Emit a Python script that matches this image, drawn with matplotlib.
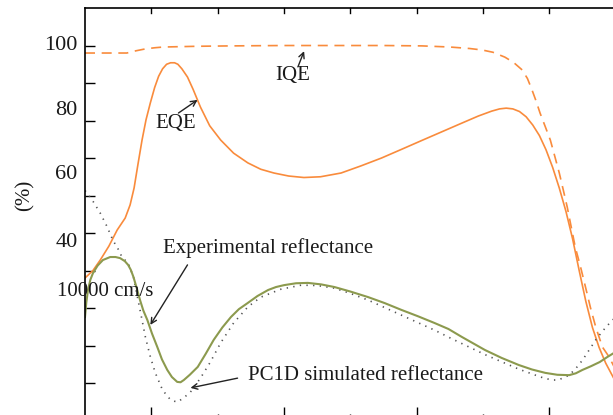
import matplotlib.pyplot as plt

# Longueurs d'onde (nm) et valeurs (%)
eqe_wl = [300, 312, 323, 336, 348.5, 360.6, 368, 374, 380, 386, 392, 398.5, 405, 411, 417, 423,
          429, 435, 440, 446, 454.5, 463, 474, 488, 504.5, 524, 545.5, 565, 584.8, 607, 630,
          655, 686, 716, 747, 777, 808, 838, 868, 893, 913, 925, 935, 945, 955, 965, 975, 985,
          995, 1005, 1015, 1025, 1035, 1045, 1055, 1065, 1075, 1085, 1100, 1120]
eqe_val = [38.0, 40.0, 42.8, 46.5, 50.8, 54.0, 57.5, 62.0, 68.5, 74.8, 80.2, 84.7, 88.8, 91.8,
           93.8, 95.0, 95.4, 95.4, 95.0, 93.8, 91.6, 88.3, 83.6, 78.6, 74.8, 71.3, 68.7, 67.0,
           66.0, 65.2, 64.8, 65.0, 66.0, 67.9, 70.0, 72.3, 74.7, 77.0, 79.3, 81.2, 82.5, 83.1,
           83.3, 83.1, 82.4, 81.0, 78.8, 76.0, 72.2, 67.5, 62.0, 55.8, 48.5, 40.0, 31.8, 24.8,
           19.5, 15.3, 10.3, 5.0]

iqe_wl = [300, 340, 363, 377, 391, 405, 418, 470, 520, 600, 686, 750, 808, 850, 880, 899, 915,
          933, 946, 959, 967, 974, 980, 986, 994, 1001.5, 1008, 1015, 1021, 1027, 1033, 1039,
          1047, 1054.5, 1062, 1070, 1080, 1090, 1100, 1120]
iqe_val = [98.0, 98.0, 98.0, 98.6, 99.1, 99.4, 99.6, 99.8, 99.9, 100.0, 100.0, 100.0, 99.9,
           99.6, 99.2, 98.8, 98.2, 96.9, 95.5, 93.5, 91.2, 88.1, 85.2, 82.0, 78.3, 74.8, 70.6,
           66.0, 61.5, 56.9, 51.6, 46.3, 41.0, 35.6, 30.1, 24.9, 19.6, 17.0, 13.5, 7.0]

refl_exp_wl = [300, 302, 304.5, 308, 312, 319, 327, 338, 346, 353, 360, 365, 369, 373, 378, 383,
               388, 394, 401, 409, 416, 424, 431, 439, 444, 449, 458, 470, 482, 494, 507, 520,
               532, 545, 560, 576, 588, 600, 618, 636, 656, 676, 700, 727, 752, 777, 802, 827,
               848, 868, 885, 903, 928, 954, 974, 994, 1012, 1030, 1040, 1050, 1063, 1076, 1088,
               1100, 1120]
refl_exp_val = [27.6, 31.5, 34.8, 37.5, 39.3, 41.3, 42.8, 43.6, 43.6, 43.3, 42.5, 41.5, 40.2,
                38.3, 35.3, 32.1, 29.3, 26.8, 23.2, 19.6, 16.3, 13.5, 11.6, 10.3, 10.2, 10.8,
                12.2, 14.3, 17.8, 21.5, 24.8, 27.6, 29.7, 31.3, 33.2, 34.8, 35.6, 36.1, 36.6,
                36.7, 36.3, 35.6, 34.4, 32.9, 31.3, 29.5, 27.8, 26.0, 24.4, 22.3, 20.6, 18.8,
                16.7, 14.8, 13.6, 12.7, 12.2, 12.1, 12.6, 13.5, 14.5, 15.6, 17.0, 18.3, 21.0]

refl_sim_wl = [300, 303, 313, 323, 333, 342, 350, 356, 365, 373, 380, 386, 391, 398.5, 406, 417,
               429, 439, 448.5, 459, 474, 489, 504.5, 524, 545.5, 565, 595, 626, 650, 676, 700,
               727, 752, 777, 802, 827, 853, 879, 904, 929, 954, 979, 992, 1004.5, 1013, 1020,
               1030, 1040, 1050, 1060, 1070, 1080, 1091, 1100, 1120]
refl_sim_val = [61.3, 60.7, 58.2, 55.3, 51.8, 48.1, 45.7, 43.5, 42.0, 38.3, 32.1, 26.8, 22.3,
                17.0, 12.7, 8.1, 5.5, 4.9, 6.0, 7.6, 11.3, 15.6, 20.7, 26.0, 30.3, 32.9, 35.0,
                36.1, 36.0, 35.3, 33.9, 32.1, 30.1, 28.1, 26.1, 24.1, 21.8, 19.6, 17.5, 15.6,
                13.7, 12.1, 11.3, 10.8, 10.8, 11.3, 12.1, 13.9, 16.1, 18.8, 21.5, 23.8, 26.0,
                27.6, 31.0]

# Étiquettes de l'axe Y telles qu'elles apparaissent (décalées par rapport aux graduations)
ylabels = ['100', '80', '60', '40']
ylabel_pos = [100.1, 82.8, 65.5, 47.6]

orange = '#f98b3c'
olive = '#8c9a4e'
txt = '#1a1a1a'
fs = 15

plt.rcParams['font.family'] = ['Liberation Serif', 'DejaVu Serif']

fig = plt.figure(figsize=(6.13, 4.15), dpi=100)
ax = fig.add_axes([85 / 613, -0.0133, 597 / 613, 412.5 / 415])

ax.plot(iqe_wl, iqe_val, color=orange, lw=1.2, dashes=(6, 4))
ax.plot(eqe_wl, eqe_val, color=orange, lw=1.2)
ax.plot(refl_sim_wl, refl_sim_val, color='#555555', lw=1.2, dashes=(0.8, 3.2))
ax.plot(refl_exp_wl, refl_exp_val, color=olive, lw=1.5)

ax.set_xlim(300, 1200)
ax.set_ylim(0, 110)

ax.set_yticks(range(0, 101, 10))
ax.set_yticklabels([])
ax.set_xticks(range(400, 1101, 200))
ax.set_xticks(range(500, 1101, 200), minor=True)
ax.set_xticklabels([])
ax.tick_params(axis='y', direction='in', length=7, width=1, right=False)
ax.tick_params(axis='x', which='major', direction='in', length=10, width=1, top=False)
ax.tick_params(axis='x', which='minor', direction='in', length=5, width=1, top=False)

# graduations du haut : toutes les 100 nm
for wl in range(400, 1201, 100):
    ax.plot([wl, wl], [110, 108.6], color='black', lw=1, clip_on=False)

for s in ax.spines.values():
    s.set_linewidth(1.2)

for lab, pos in zip(ylabels, ylabel_pos):
    ax.text(289, pos, lab, ha='right', va='center', fontsize=fs + 1, color=txt, clip_on=False)

ax.text(209, 60.1, '(%)', rotation=90, ha='center', va='center', fontsize=fs,
        color=txt, clip_on=False)
ax.text(257.6, 34.5, '10000 cm/s', ha='left', va='center', fontsize=fs,
        color=txt, clip_on=False)

arrow = dict(arrowstyle='->', color='#222222', lw=1, shrinkA=0, shrinkB=0)
ax.annotate('', xy=(630.3, 98.5), xytext=(621, 94.3), arrowprops=arrow)
ax.text(613.6, 92.1, 'IQE', ha='center', va='center', fontsize=fs, color=txt)
ax.annotate('', xy=(469.7, 85.5), xytext=(440.9, 82.0), arrowprops=arrow)
ax.text(436.4, 79.3, 'EQE', ha='center', va='center', fontsize=fs, color=txt)
ax.annotate('', xy=(398.5, 25.5), xytext=(454.5, 41.5), arrowprops=arrow)
ax.text(418.2, 46.0, 'Experimental reflectance', ha='left', va='center',
        fontsize=fs, color=txt)
ax.annotate('', xy=(459, 8.7), xytext=(530, 11.3), arrowprops=arrow)
ax.text(545.5, 12.1, 'PC1D simulated reflectance', ha='left', va='center',
        fontsize=fs, color=txt)

fig.savefig('out.png', dpi=100)
